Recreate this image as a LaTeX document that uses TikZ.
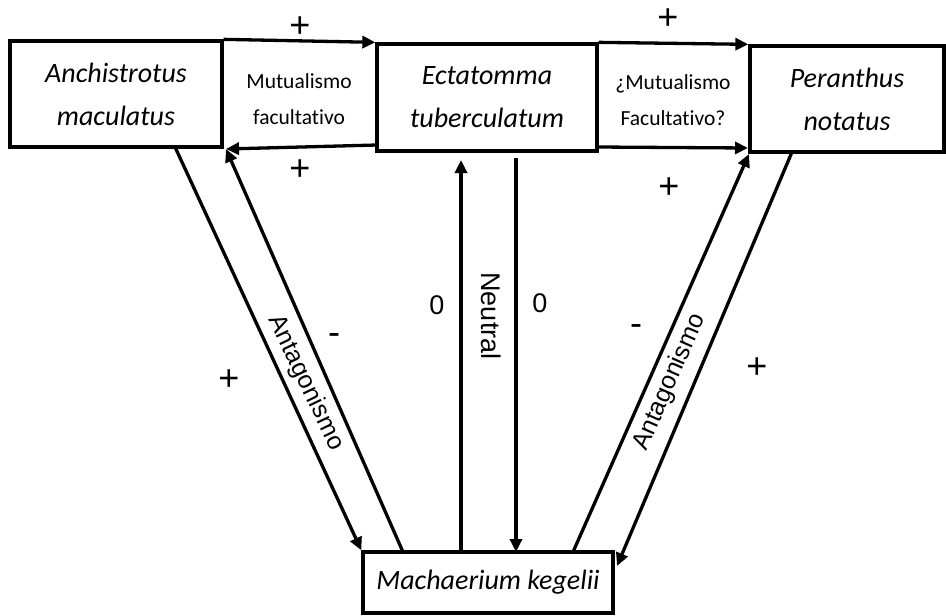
\documentclass[tikz,border=0pt]{standalone}
\usepackage{fontspec}
\setmainfont{Carlito}[Ligatures=NoCommon]
\newfontfamily\arialf{Liberation Sans}
\usetikzlibrary{arrows.meta}

\tikzset{
  species/.style={draw,line width=3.3pt,inner sep=0pt,align=center,font=\fontsize{28}{43}\selectfont\itshape},
  reltext/.style={align=center,font=\fontsize{21.5}{36}\selectfont},
  arr/.style={line width=3.3pt,-{Triangle[length=13pt,width=12pt]}},
  sign/.style={font=\arialf\fontsize{36}{36}\selectfont},
  zero/.style={font=\arialf\fontsize{27}{27}\selectfont},
  rotlab/.style={font=\arialf\fontsize{25}{25}\selectfont}
}

\begin{document}
\begin{tikzpicture}[x=1pt,y=-1pt]
\useasboundingbox (0,0) rectangle (946,616);

\node[species,minimum width=212pt,minimum height=106pt] (anch) at (116,94) {Anchistrotus\\maculatus};
\node[species,minimum width=220pt,minimum height=107pt] (ecta) at (487,97.5) {Ectatomma\\tuberculatum};
\node[species,minimum width=194pt,minimum height=106pt] (pera) at (847,99) {Peranthus\\notatus};
\node[species,minimum width=250pt,minimum height=61pt] (mach) at (488,582.5) {Machaerium kegelii};

\node[reltext] (mut1) at (299,99) {Mutualismo\\facultativo};
\node[reltext] (mut2) at (673,100) {¿Mutualismo\\Facultativo?};

\coordinate (anchS) at (175,147);
\coordinate (anchSE) at (226,149);
\coordinate (ectaBL) at (377,145);
\coordinate (ectaBR) at (597,147);
\coordinate (peraBL) at (748,148);
\coordinate (peraS) at (792,152);
\coordinate (machA) at (403,552);
\coordinate (machB) at (461,552);
\coordinate (machC) at (516,552);
\coordinate (machD) at (573,552);
\coordinate (machE) at (617,566);
\coordinate (ectaSA) at (461,160);
\coordinate (ectaSB) at (516,158);
\coordinate (peraSW) at (749,154);

\draw[arr] (anch.north east) -- (ecta.north west);
\draw[arr] (ectaBL) -- (anchSE);
\draw[arr] (ecta.north east) -- (pera.north west);
\draw[arr] (ectaBR) -- (peraBL);

\draw[arr] (anchS) -- (mach.north west);
\draw[arr] (machA) -- (anchSE);
\draw[arr] (machB) -- (ectaSA);
\draw[arr] (ectaSB) -- (machC);
\draw[arr] (machD) -- (peraSW);
\draw[arr] (peraS) -- (machE);

\node[sign] (p1) at (300,27) {+};
\node[sign] (p2) at (300,170) {+};
\node[sign] (p3) at (668,19) {+};
\node[sign] (p4) at (669,188) {+};
\node[sign] (p5) at (229,380) {+};
\node[sign] (p6) at (757,368) {+};
\node[sign] (m1) at (334,339) {-};
\node[sign] (m2) at (636,330) {-};

\node[zero] (z1) at (437,305) {0};
\node[zero] (z2) at (540,303) {0};

\node[rotlab,rotate=-90,font=\arialf\fontsize{27}{27}\selectfont] (neut) at (491,316) {Neutral};
\node[rotlab,rotate=-64.5] (ant1) at (306,383) {Antagonismo};
\node[rotlab,rotate=66.5] (ant2) at (670,382) {Antagonismo};

\end{tikzpicture}
\end{document}
